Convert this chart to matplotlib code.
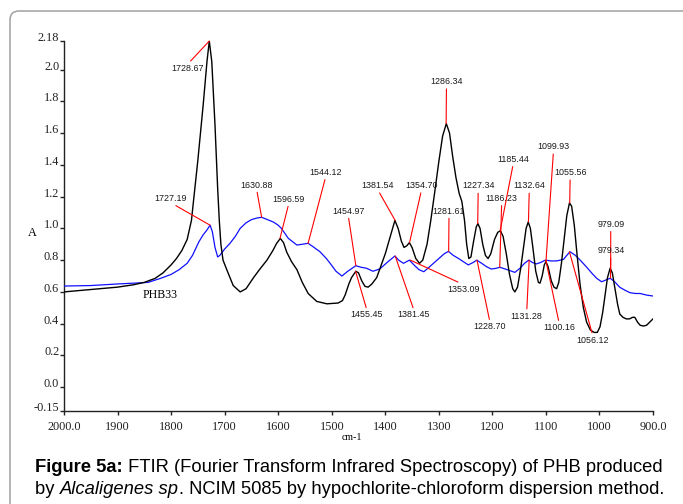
import matplotlib
matplotlib.use("Agg")
import matplotlib.pyplot as plt
from matplotlib.patches import FancyBboxPatch
from matplotlib.transforms import IdentityTransform

# ---------------- data ----------------
black_wn = [2000, 1950, 1900, 1870, 1850, 1830, 1815, 1800, 1790, 1780, 1770, 1762,
            1750, 1740, 1733, 1728.67, 1724, 1718, 1713, 1710, 1707, 1703, 1696, 1684,
            1671, 1660, 1646, 1635, 1621, 1610, 1603, 1596, 1590, 1584, 1575, 1565,
            1555, 1544, 1528, 1509, 1488, 1480, 1475, 1468, 1463, 1455, 1450, 1444,
            1438, 1432, 1425, 1416, 1400, 1388, 1382, 1376, 1370, 1365, 1360, 1355,
            1350, 1343, 1336, 1330, 1322, 1315, 1308, 1300, 1293, 1286, 1280, 1274,
            1268, 1262, 1257, 1252, 1248, 1244, 1240, 1235, 1230, 1227, 1223, 1218,
            1213, 1208, 1203, 1196, 1190, 1185, 1180, 1174, 1168, 1162, 1158, 1153,
            1147, 1141, 1137, 1133, 1129, 1124, 1119, 1114, 1111, 1107, 1103, 1100,
            1096, 1090, 1085, 1080, 1076, 1071, 1066, 1061, 1056, 1052, 1047, 1042,
            1036, 1030, 1024, 1017, 1010, 1004, 999, 994, 989, 985, 980, 976, 971,
            966, 962, 956, 950, 944, 938, 934, 929, 924, 918, 912, 906, 900]
black_a = [0.600, 0.615, 0.630, 0.645, 0.660, 0.685, 0.720, 0.770, 0.810, 0.860, 0.930, 1.050,
           1.430, 1.780, 2.050, 2.180, 2.050, 1.650, 1.250, 1.050, 0.900, 0.800, 0.740, 0.640,
           0.600, 0.620, 0.690, 0.740, 0.800, 0.860, 0.905, 0.937, 0.910, 0.850, 0.790, 0.740,
           0.660, 0.590, 0.540, 0.525, 0.530, 0.545, 0.580, 0.650, 0.690, 0.730, 0.720, 0.670,
           0.635, 0.630, 0.650, 0.690, 0.840, 0.980, 1.050, 1.000, 0.920, 0.880, 0.890, 0.910,
           0.880, 0.810, 0.780, 0.800, 0.900, 1.050, 1.220, 1.420, 1.580, 1.660, 1.600, 1.450,
           1.320, 1.220, 1.170, 1.050, 0.900, 0.810, 0.820, 0.920, 1.010, 1.030, 1.000, 0.900,
           0.830, 0.810, 0.840, 0.930, 0.975, 0.985, 0.950, 0.840, 0.710, 0.620, 0.600, 0.630,
           0.750, 0.900, 1.000, 1.040, 1.000, 0.870, 0.730, 0.660, 0.655, 0.700, 0.770, 0.790,
           0.760, 0.670, 0.630, 0.620, 0.660, 0.780, 0.930, 1.080, 1.160, 1.140, 1.020, 0.840,
           0.640, 0.500, 0.410, 0.360, 0.345, 0.345, 0.380, 0.470, 0.590, 0.690, 0.750, 0.720, 0.620,
           0.520, 0.460, 0.440, 0.430, 0.430, 0.440, 0.440, 0.410, 0.390, 0.385, 0.390, 0.410, 0.430]

blue_wn = [2000, 1950, 1900, 1870, 1843, 1820, 1800, 1785, 1770, 1760, 1748, 1740, 1733,
           1727.19, 1723, 1718, 1713, 1709, 1700, 1690, 1680, 1671, 1660, 1650, 1640,
           1630.88, 1620, 1609, 1600, 1594, 1581, 1565, 1555, 1544.12, 1535, 1522, 1510,
           1503, 1492, 1481, 1470, 1455, 1445, 1435, 1423, 1410, 1405, 1395, 1382, 1375,
           1366, 1355, 1345, 1337, 1328, 1320, 1310, 1300, 1290, 1282, 1273, 1263, 1254,
           1245, 1236, 1229, 1220, 1211, 1202, 1194, 1186, 1174, 1158, 1148, 1140, 1132,
           1125, 1118, 1110, 1101, 1090, 1080, 1067, 1061, 1055, 1045, 1036, 1025, 1014,
           1005, 996, 988, 980, 972, 962, 952, 943, 933, 924, 912, 900]
blue_a = [0.637, 0.640, 0.650, 0.655, 0.660, 0.685, 0.710, 0.740, 0.780, 0.830, 0.916, 0.960, 0.990,
          1.020, 0.980, 0.880, 0.820, 0.830, 0.870, 0.906, 0.950, 1.000, 1.035, 1.055, 1.065,
          1.070, 1.055, 1.040, 1.020, 1.000, 0.937, 0.895, 0.900, 0.906, 0.885, 0.853, 0.810,
          0.780, 0.730, 0.700, 0.730, 0.765, 0.755, 0.749, 0.730, 0.745, 0.760, 0.790, 0.826, 0.800,
          0.780, 0.800, 0.765, 0.740, 0.727, 0.750, 0.780, 0.810, 0.840, 0.855, 0.830, 0.810, 0.790,
          0.770, 0.785, 0.800, 0.780, 0.759, 0.744, 0.748, 0.755, 0.742, 0.723, 0.750, 0.780, 0.800,
          0.785, 0.776, 0.785, 0.800, 0.795, 0.795, 0.805, 0.830, 0.853, 0.830, 0.800, 0.760, 0.717,
          0.685, 0.664, 0.675, 0.686, 0.665, 0.629, 0.610, 0.595, 0.590, 0.590, 0.580, 0.574]

# peak annotations: label, peak wavenumber, peak absorbance
ann_labels = ["1728.67", "1727.19", "1630.88", "1596.59", "1544.12", "1454.97", "1455.45",
              "1381.54", "1354.70", "1381.45", "1353.09", "1286.34", "1281.61", "1227.34",
              "1228.70", "1185.44", "1186.23", "1132.64", "1131.28", "1099.93", "1100.16",
              "1055.56", "1056.12", "979.09", "979.34"]
ann_peak_wn = [1728.67, 1727.19, 1630.88, 1596.59, 1544.12, 1454.97, 1455.45,
               1381.54, 1354.70, 1381.45, 1353.09, 1286.34, 1281.61, 1227.34,
               1228.70, 1185.44, 1186.23, 1132.64, 1131.28, 1099.93, 1100.16,
               1055.56, 1056.12, 979.09, 979.34]
ann_peak_a = [2.18, 1.02, 1.07, 0.937, 0.906, 0.765, 0.73,
              1.05, 0.91, 0.826, 0.80, 1.66, 0.855, 1.03,
              0.80, 0.985, 0.755, 1.04, 0.80, 0.79, 0.80,
              1.16, 0.853, 0.75, 0.686]
# label placement (layout, in data units)
ann_text_wn = [1768.4, 1800.2, 1640.2, 1580.2, 1511.3, 1469.1, 1434.2,
               1413.6, 1332.4, 1346.4, 1253.0, 1285.7, 1281.0, 1226.5,
               1204.5, 1161.0, 1182.6, 1131.1, 1135.8, 1085.9, 1075.3,
               1054.7, 1012.5, 978.9, 978.9]
ann_text_a = [2.008, 1.189, 1.273, 1.185, 1.353, 1.109, 0.455,
              1.269, 1.269, 0.455, 0.616, 1.924, 1.109, 1.267,
              0.381, 1.435, 1.189, 1.267, 0.448, 1.514, 0.375,
              1.351, 0.297, 1.026, 0.859]

yticks = [2.18, 2.0, 1.8, 1.6, 1.4, 1.2, 1.0, 0.8, 0.6, 0.4, 0.2, 0.0, -0.15]
ytick_labels = ["2.18", "2.0", "1.8", "1.6", "1.4", "1.2", "1.0", "0.8", "0.6", "0.4",
                "0.2", "0.0", "-0.15"]
xticks = [2000, 1900, 1800, 1700, 1600, 1500, 1400, 1300, 1200, 1100, 1000, 900]
xtick_labels = ["2000.0", "1900", "1800", "1700", "1600", "1500", "1400", "1300",
                "1200", "1100", "1000", "900.0"]

# ---------------- figure ----------------
W, H = 683, 504
fig = plt.figure(figsize=(W / 100, H / 100), dpi=100)
fig.patch.set_facecolor("white")

# rounded frame around the figure (open on right/bottom)
frame = FancyBboxPatch((10, -60), 740, H - 11 + 60,
                       boxstyle="round,pad=0,rounding_size=9",
                       transform=IdentityTransform(), fill=False,
                       edgecolor="#a0a0a0", linewidth=1.1)
fig.add_artist(frame)

ax = fig.add_axes([64 / W, (H - 411) / H, 589 / W, 370 / H])
ax.set_xlim(2000, 900)
ax.set_ylim(-0.15, 2.18)
for s in ("top", "right"):
    ax.spines[s].set_visible(False)
for s in ("left", "bottom"):
    ax.spines[s].set_linewidth(1.0)
    ax.spines[s].set_color("#222222")

serif = "Liberation Serif"
ax.set_yticks(yticks)
ax.set_yticklabels(ytick_labels, fontfamily=serif, fontsize=8.8)
ax.set_xticks(xticks)
ax.set_xticklabels(xtick_labels, fontfamily=serif, fontsize=8.8)
ax.tick_params(axis="y", length=3, width=1.0, pad=0.5, colors="#222222")
ax.tick_params(axis="x", length=3, width=1.0, pad=4, colors="#222222")
for lab in ax.get_yticklabels():
    lab.set_verticalalignment("baseline")

ax.plot(blue_wn, blue_a, color="#1010ff", lw=0.9, zorder=3)
ax.plot(black_wn, black_a, color="black", lw=1.0, zorder=4)

sans = "Liberation Sans"
for lab, pw, pa, tw, ta in zip(ann_labels, ann_peak_wn, ann_peak_a, ann_text_wn, ann_text_a):
    rel = (0.5, 0.0) if ta > pa else (0.5, 1.0)
    ax.annotate(lab, xy=(pw, pa), xytext=(tw, ta), textcoords="data",
                ha="center", va="center", fontsize=6.4, fontfamily=sans, color="#1a1a1a",
                arrowprops=dict(arrowstyle="-", color="red", lw=0.8,
                                shrinkA=0, shrinkB=0, relpos=rel),
                zorder=5)

ax.text(1820.7, 0.58, "PHB33", fontfamily=serif, fontsize=8.6, ha="center", va="center")
fig.text(32 / W, 1 - 233 / H, "A", fontfamily=serif, fontsize=8.8, ha="center", va="center")
fig.text(352 / W, 1 - 438 / H, "cm-1", fontfamily=serif, fontsize=7.2, ha="center", va="center")

# ---------------- caption ----------------
renderer = fig.canvas.get_renderer()
cap_size = 13.2


def draw_parts(parts, x0, ypix):
    x = x0
    for txt, weight, style in parts:
        t = fig.text(x / W, 1 - ypix / H, txt, fontfamily=sans, fontsize=cap_size,
                     fontweight=weight, fontstyle=style, ha="left", va="center",
                     color="black")
        bb = t.get_window_extent(renderer=renderer)
        x += bb.width


draw_parts([("Figure 5a:", "bold", "normal"),
            (" FTIR (Fourier Transform Infrared Spectroscopy) of PHB produced", "normal", "normal")],
           35, 467)
draw_parts([("by ", "normal", "normal"),
            ("Alcaligenes sp", "normal", "italic"),
            (". NCIM 5085 by hypochlorite-chloroform dispersion method.", "normal", "normal")],
           35, 489)

fig.savefig("out.png", dpi=100)
